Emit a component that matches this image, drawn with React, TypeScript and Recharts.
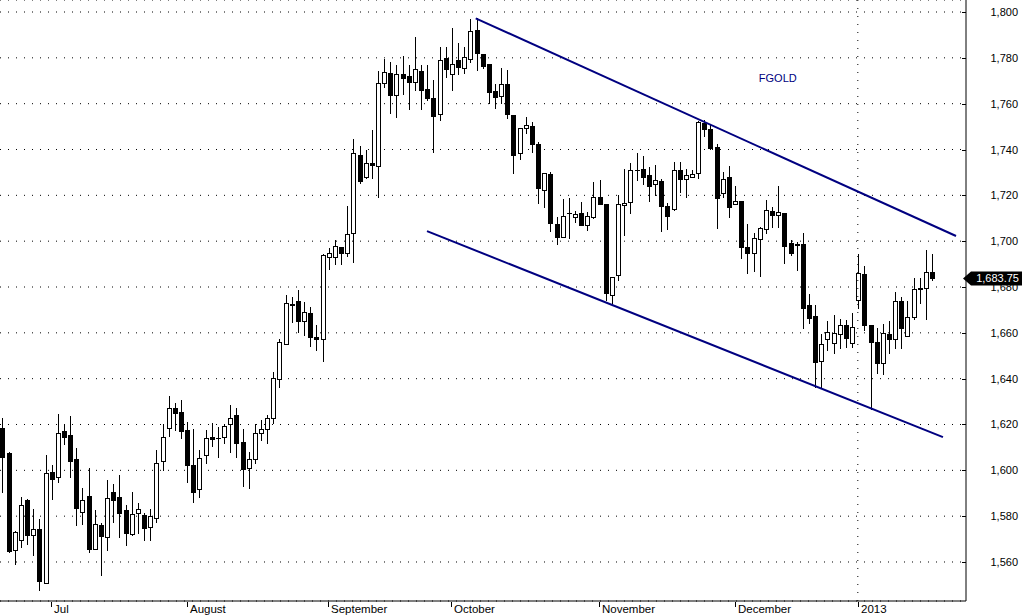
import React from 'react';
import { ComposedChart, Bar, XAxis, YAxis, CartesianGrid, ReferenceLine, ReferenceDot } from 'recharts';

const opens = [1618.3,1607.4,1565.1,1569.5,1587.1,1571.9,1574.25,1551.0,1599.3,1597.0,1617.2,1615.4,1604.8,1581.7,1588.7,1565.5,1576.0,1570.8,1590.4,1588.4,1582.7,1572.2,1581.2,1580.5,1575.4,1579.1,1603.9,1618.3,1627.0,1625.3,1617.6,1602.3,1591.7,1606.8,1614.4,1613.9,1614.7,1620.1,1624.1,1612.4,1601.1,1604.8,1616.1,1617.9,1622.7,1639.7,1655.0,1672.6,1673.9,1665.3,1668.5,1658.0,1657.2,1692.95,1693.2,1697.3,1695.0,1703.4,1737.6,1728.1,1734.0,1732.8,1768.9,1773.2,1763.8,1772.8,1772.1,1769.6,1774.3,1766.4,1762.6,1755.3,1779.8,1772.8,1779.1,1775.7,1779.3,1792.1,1781.5,1777.2,1765.5,1763.5,1768.4,1755.1,1738.3,1749.5,1750.3,1742.3,1722.3,1729.3,1707.3,1702.0,1712.3,1710.7,1712.1,1707.1,1710.7,1719.4,1716.1,1676.5,1685.2,1715.6,1717.2,1731.1,1731.3,1728.9,1724.8,1726.3,1715.3,1713.9,1731.1,1727.3,1728.1,1729.9,1751.4,1748.8,1741.2,1721.2,1727.9,1716.1,1717.5,1697.6,1695.0,1700.8,1705.4,1713.3,1711.3,1712.1,1699.1,1698.6,1698.6,1672.0,1667.4,1647.9,1657.2,1655.4,1659.5,1663.3,1655.4,1674.3,1685.5,1663.4,1655.9,1647.0,1659.3,1657.2,1674.0,1658.8,1667.1,1679.2,1679.7,1686.7];
const highs = [1622.7,1608.0,1573.4,1588.4,1587.6,1583.1,1578.8,1606.7,1602.2,1624.6,1619.8,1623.7,1609.6,1592.2,1600.9,1582.7,1576.9,1595.8,1594.0,1597.8,1584.7,1590.4,1585.6,1581.2,1583.0,1608.9,1620.2,1632.4,1629.2,1630.7,1620.9,1617.9,1608.9,1617.6,1620.8,1619.0,1620.2,1628.5,1627.0,1617.9,1608.1,1620.2,1622.0,1624.1,1643.0,1657.3,1676.5,1675.5,1678.5,1673.6,1671.4,1663.5,1694.2,1697.2,1700.5,1697.6,1715.3,1744.5,1741.5,1739.8,1748.5,1774.3,1779.5,1778.0,1776.9,1780.8,1776.9,1789.0,1776.9,1776.9,1770.3,1784.9,1784.6,1792.9,1786.3,1784.9,1797.0,1797.2,1781.5,1777.2,1768.4,1775.4,1774.7,1755.1,1749.2,1754.0,1752.1,1743.4,1729.6,1730.3,1710.4,1718.3,1718.7,1713.2,1717.2,1712.9,1726.0,1726.7,1716.1,1684.5,1720.1,1731.3,1734.3,1738.3,1737.2,1732.5,1733.2,1727.0,1716.5,1734.7,1734.7,1731.3,1731.1,1752.6,1752.9,1751.1,1742.3,1730.3,1732.8,1724.1,1717.5,1707.5,1703.7,1706.3,1718.0,1714.8,1724.1,1712.1,1700.5,1699.8,1703.7,1676.8,1672.2,1659.5,1665.3,1667.8,1665.9,1665.6,1668.5,1694.5,1689.2,1663.6,1662.0,1664.0,1665.2,1677.9,1675.8,1674.0,1683.8,1683.8,1696.1,1694.4];
const lows = [1590.7,1564.5,1559.0,1566.7,1567.9,1563.2,1547.8,1551.0,1587.6,1595.1,1611.6,1597.2,1576.2,1576.6,1564.5,1565.5,1554.3,1565.2,1577.6,1571.1,1567.3,1571.8,1572.5,1569.6,1569.6,1577.6,1600.1,1615.0,1617.6,1614.2,1595.0,1586.3,1588.5,1603.0,1610.7,1605.9,1612.1,1608.1,1605.9,1593.1,1592.1,1603.0,1613.2,1611.8,1620.8,1636.5,1655.0,1664.9,1660.5,1659.2,1654.4,1652.6,1647.9,1687.7,1690.0,1690.0,1693.5,1691.0,1725.5,1727.7,1727.4,1719.4,1767.4,1756.1,1754.0,1764.2,1757.7,1766.0,1757.7,1761.6,1738.8,1752.9,1771.8,1766.0,1772.8,1773.2,1778.3,1774.7,1775.5,1760.2,1758.3,1760.2,1753.6,1729.6,1735.7,1747.1,1739.1,1716.8,1714.8,1704.6,1698.8,1702.0,1701.2,1708.5,1707.1,1704.9,1710.0,1716.1,1674.3,1672.9,1683.1,1702.7,1712.4,1726.7,1724.9,1717.7,1720.1,1704.6,1705.3,1713.6,1721.6,1719.4,1728.0,1727.7,1746.0,1740.1,1705.6,1719.4,1710.4,1716.1,1692.5,1686.0,1687.1,1684.9,1703.7,1706.3,1706.3,1690.6,1694.0,1687.4,1662.0,1664.4,1636.5,1635.8,1652.5,1651.1,1653.2,1654.0,1654.0,1670.7,1661.2,1626.7,1642.6,1642.0,1651.3,1653.2,1653.2,1658.6,1665.9,1673.2,1666.0,1683.1];
const closes = [1606.0,1565.0,1573.0,1584.7,1571.9,1574.25,1551.9,1598.7,1596.1,1616.1,1614.7,1604.2,1583.7,1587.1,1565.8,1576.4,1571.5,1587.8,1587.2,1581.5,1572.5,1580.8,1583.0,1575.0,1580.1,1603.1,1614.4,1627.0,1624.9,1617.3,1602.3,1590.7,1605.2,1613.9,1613.8,1614.3,1619.3,1622.7,1612.1,1600.6,1604.8,1616.1,1617.9,1622.7,1640.1,1655.8,1672.9,1672.0,1665.3,1668.9,1658.0,1657.2,1693.8,1694.7,1697.9,1695.0,1703.0,1738.3,1726.4,1734.0,1733.1,1768.9,1773.7,1763.8,1772.8,1771.3,1769.6,1775.1,1766.0,1762.6,1754.8,1779.1,1775.1,1777.2,1776.1,1780.5,1791.7,1782.3,1776.6,1765.0,1763.1,1768.4,1755.3,1737.8,1749.2,1750.7,1742.3,1723.1,1729.6,1707.8,1702.0,1711.0,1712.1,1711.7,1707.1,1711.0,1719.4,1716.1,1677.5,1684.5,1716.1,1716.5,1731.1,1730.9,1727.9,1724.1,1726.7,1715.3,1710.9,1731.1,1727.1,1728.7,1729.3,1751.9,1748.8,1740.8,1719.0,1727.0,1715.1,1717.5,1697.6,1695.0,1701.5,1705.9,1713.6,1711.3,1712.6,1698.0,1695.0,1698.2,1671.0,1666.3,1647.4,1655.1,1660.5,1659.8,1663.3,1657.6,1662.7,1686.0,1663.4,1656.1,1646.7,1660.1,1657.5,1673.7,1662.2,1667.1,1679.0,1679.6,1686.4,1683.75];

const monthTicks = [8, 30, 53, 73, 97, 119, 139];
const monthLabels = ['Jul', 'August', 'September', 'October', 'November', 'December', '2013'];
const priceTicks = [1560, 1580, 1600, 1620, 1640, 1660, 1680, 1700, 1720, 1740, 1760, 1780, 1800];
const lastPrice = 1683.75;
const symbolName = 'FGOLD';
const upperChannel = [{ x: 76.94, y: 1797.25 }, { x: 154.95, y: 1702.25 }];
const lowerChannel = [{ x: 69.03, y: 1704.4 }, { x: 152.83, y: 1614.5 }];

const data = opens.map((o, i) => ({
  i,
  o,
  h: highs[i],
  l: lows[i],
  c: closes[i],
  range: [lows[i], highs[i]],
}));

const FONT = '"Liberation Sans", Arial, sans-serif';
const NAVY = '#000080';

const Candle = (props: any) => {
  const { x, y, width, height, payload } = props;
  if (!payload || x == null || y == null) return null;
  const { o, h, l, c } = payload;
  const top = Math.min(y, y + height);
  const hgt = Math.abs(height);
  const pix = (v: number) => (h === l ? top : top + ((h - v) / (h - l)) * hgt);
  const cx = Math.round(x + width / 2);
  const yH = Math.round(pix(h));
  const yL = Math.round(pix(l));
  const yT = Math.round(pix(Math.max(o, c)));
  const yB = Math.round(pix(Math.min(o, c)));
  const up = c > o;
  return (
    <g shapeRendering="crispEdges">
      <line x1={cx + 0.5} x2={cx + 0.5} y1={yH} y2={yL + 1} stroke="#000" strokeWidth={1} />
      {up && yB - yT >= 2 ? (
        <rect x={cx - 1.5} y={yT + 0.5} width={4} height={yB - yT} fill="#fff" stroke="#000" strokeWidth={1} />
      ) : (
        <rect x={cx - 2} y={yT} width={5} height={Math.max(1, yB - yT + 1)} fill="#000" />
      )}
    </g>
  );
};

const XTick = (props: any) => {
  const { x, y, payload } = props;
  const idx = monthTicks.indexOf(payload.value);
  const label = idx >= 0 ? monthLabels[idx] : '';
  const px = Math.round(x);
  return (
    <g>
      <line x1={px + 0.5} x2={px + 0.5} y1={y + 1} y2={y + 6} stroke="#000" shapeRendering="crispEdges" />
      <text x={px + 3} y={y + 12} fontSize={11.5} fontFamily={FONT} fill="#000" textAnchor="start">
        {label}
      </text>
    </g>
  );
};

const YTick = (props: any) => {
  const { x, y, payload } = props;
  const py = Math.round(y);
  return (
    <g>
      <line x1={x - 4} x2={x} y1={py + 0.5} y2={py + 0.5} stroke="#000" shapeRendering="crispEdges" />
      <text x={x + 52} y={py + 4} fontSize={11} fontFamily={FONT} fill="#000" textAnchor="end">
        {payload.value.toLocaleString('en-US')}
      </text>
    </g>
  );
};

const PriceTag = (props: any) => {
  const vb = props.viewBox || {};
  const tip = (vb.x || 0) + (vb.width || 0) - 3;
  const cy = vb.y || 0;
  const right = 1022;
  const pts = `${tip},${cy} ${tip + 8},${cy - 7} ${right},${cy - 7} ${right},${cy + 7} ${tip + 8},${cy + 7}`;
  return (
    <g>
      <polygon points={pts} fill="#000" />
      <text x={right - 3} y={cy + 4} fontSize={11} fontFamily={FONT} fill="#fff" textAnchor="end">
        {lastPrice.toLocaleString('en-US', { minimumFractionDigits: 2 })}
      </text>
    </g>
  );
};

export default function App() {
  return (
    <div style={{ position: 'absolute', left: 0, top: 0, width: 1023, height: 616, background: '#fff' }}>
      <ComposedChart
        width={1023}
        height={616}
        data={data}
        margin={{ top: 0, right: 0, bottom: 0, left: 0 }}
        style={{ fontFamily: FONT }}
      >
        <CartesianGrid vertical={false} stroke="#000" strokeDasharray="1 7" />
        <XAxis
          dataKey="i"
          type="number"
          domain={[-0.325, 156.57]}
          allowDataOverflow
          ticks={monthTicks}
          interval={0}
          tick={<XTick />}
          tickSize={0}
          tickMargin={0}
          tickLine={false}
          axisLine={{ stroke: '#000' }}
          height={15}
        />
        <YAxis
          orientation="right"
          type="number"
          domain={[1542.98, 1805.24]}
          allowDataOverflow
          ticks={priceTicks}
          interval={0}
          tick={<YTick />}
          tickSize={0}
          tickMargin={0}
          tickLine={false}
          axisLine={{ stroke: '#000' }}
          width={57}
        />
        <ReferenceLine x={139} stroke="#000" strokeDasharray="1 7" />
        <Bar dataKey="range" barSize={5} shape={<Candle />} isAnimationActive={false} />
        <ReferenceLine segment={upperChannel} stroke={NAVY} strokeWidth={2} ifOverflow="visible" />
        <ReferenceLine segment={lowerChannel} stroke={NAVY} strokeWidth={2} ifOverflow="visible" />
        <ReferenceDot
          x={126}
          y={1771.2}
          r={0}
          fill="none"
          stroke="none"
          label={{ value: symbolName, position: 'center', fill: NAVY, fontSize: 11, fontFamily: FONT }}
        />
        <ReferenceLine y={lastPrice} stroke="none" label={<PriceTag />} />
      </ComposedChart>
    </div>
  );
}
